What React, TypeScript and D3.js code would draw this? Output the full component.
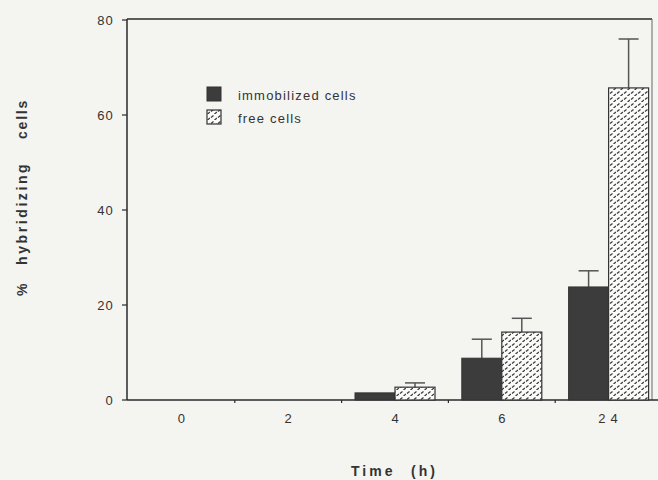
import React from "react";
import * as d3 from "d3";

const categories = ["0", "2", "4", "6", "24"];
const immobilized = [0, 0, 1.5, 8.8, 23.8];
const immobilizedErr = [0, 0, 0, 4, 3.4];
const free = [0, 0, 2.7, 14.3, 65.7];
const freeErr = [0, 0, 0.9, 2.9, 10.3];
const yTicks = [0, 20, 40, 60, 80];
const legendLabels = ["immobilized cells", "free cells"];

const W = 658, H = 480;
const left = 127, bottom = 400, top = 20;

export default function App() {
  const x = d3.scaleBand<string>().domain(categories).range([128, 662]).paddingInner(0).paddingOuter(0);
  const y = d3.scaleLinear().domain([0, 80]).range([bottom, top]);
  const bw = 40;
  const ink = "#2a2a2a";
  const font = "Liberation Sans, Arial, sans-serif";
  const boundaries = categories.slice(1).map((c) => x(c)!);

  return (
    <svg width={W} height={H} style={{ position: "absolute", left: 0, top: 0, background: "#f4f4f1" }}>
      <defs>
        <pattern id="stip" width="7" height="6" patternUnits="userSpaceOnUse">
          <rect width="7" height="6" fill="#fbfbf9" />
          <line x1="1" y1="3.5" x2="3.5" y2="1.5" stroke="#3a3a3a" strokeWidth="1.3" />
          <line x1="4.5" y1="6" x2="7" y2="4" stroke="#3a3a3a" strokeWidth="1.3" />
        </pattern>
      </defs>
      <rect x={0} y={0} width={W} height={H} fill="#f4f4f1" />
      {/* frame */}
      <line x1={left} y1={top - 1} x2={652} y2={top - 1} stroke={ink} strokeWidth={1.5} />
      <line x1={652} y1={top - 1} x2={652} y2={bottom} stroke="#666" strokeWidth={1} />
      <line x1={left} y1={top - 1} x2={left} y2={bottom} stroke={ink} strokeWidth={1.5} />
      <line x1={left} y1={bottom} x2={658} y2={bottom} stroke={ink} strokeWidth={1.5} />
      {yTicks.map((t) => (
        <g key={t}>
          <line x1={left - 5} x2={left} y1={y(t)} y2={y(t)} stroke={ink} strokeWidth={1.2} />
          <text x={114} y={y(t) + 5} textAnchor="end" fontSize={13} letterSpacing={1.2} fontFamily={font} fill="#333">{t}</text>
        </g>
      ))}
      {boundaries.map((b, i) => (
        <line key={i} x1={b} x2={b} y1={bottom} y2={bottom + 3} stroke={ink} strokeWidth={1.2} />
      ))}
      {categories.map((c) => (
        <text key={c} x={x(c)! + x.bandwidth() / 2 + (c.length > 1 ? 2 : 0)} y={423} textAnchor="middle" fontSize={13} fontFamily={font} letterSpacing={c.length > 1 ? 5 : 0} fill="#333">{c}</text>
      ))}
      {categories.map((c, i) => {
        const cx = x(c)! + x.bandwidth() / 2;
        const els: React.ReactNode[] = [];
        if (immobilized[i] > 0) {
          const yt = y(immobilized[i]);
          const bx = cx - bw / 2;
          if (immobilizedErr[i] > 0) {
            const ye = y(immobilized[i] + immobilizedErr[i]);
            els.push(<line key="ie" x1={bx} x2={bx} y1={yt} y2={ye} stroke="#555" strokeWidth={1.5} />);
            els.push(<line key="iec" x1={bx - 10} x2={bx + 10} y1={ye} y2={ye} stroke="#555" strokeWidth={1.5} />);
          }
          els.push(<rect key="ib" x={cx - bw} y={yt} width={bw} height={bottom - yt} fill="#3c3c3c" stroke="#333" strokeWidth={1} />);
        }
        if (free[i] > 0) {
          const yt = y(free[i]);
          const bx = cx + bw / 2;
          if (freeErr[i] > 0) {
            const ye = y(free[i] + freeErr[i]);
            els.push(<line key="fe" x1={bx} x2={bx} y1={yt} y2={ye} stroke="#555" strokeWidth={1.5} />);
            els.push(<line key="fec" x1={bx - 10} x2={bx + 10} y1={ye} y2={ye} stroke="#555" strokeWidth={1.5} />);
          }
          els.push(<rect key="fb" x={cx} y={yt} width={bw} height={bottom - yt} fill="url(#stip)" stroke="#333" strokeWidth={1.2} />);
        }
        return <g key={c}>{els}</g>;
      })}
      {/* legend */}
      <rect x={207} y={87} width={14} height={14} fill="#3c3c3c" stroke="#333" />
      <text x={238} y={100} fontSize={13} letterSpacing={1.2} fontFamily={font} fill="#333">{legendLabels[0]}</text>
      <rect x={207} y={110} width={14} height={14} fill="url(#stip)" stroke="#333" strokeWidth={1.2} />
      <text x={238} y={123} fontSize={13} letterSpacing={1.2} fontFamily={font} fill="#333">{legendLabels[1]}</text>
      {/* axis titles */}
      <g fontSize={14} fontFamily={font} fontWeight="bold" fill="#333">
        <text transform="translate(27,296) rotate(-90)" letterSpacing={2}>%</text>
        <text transform="translate(27,265) rotate(-90)" letterSpacing={2.6}>hybridizing</text>
        <text transform="translate(27,139) rotate(-90)" letterSpacing={1.8}>cells</text>
        <text x={351} y={476} letterSpacing={3}>Time</text>
        <text x={411} y={476} letterSpacing={3}>(h)</text>
      </g>
    </svg>
  );
}
